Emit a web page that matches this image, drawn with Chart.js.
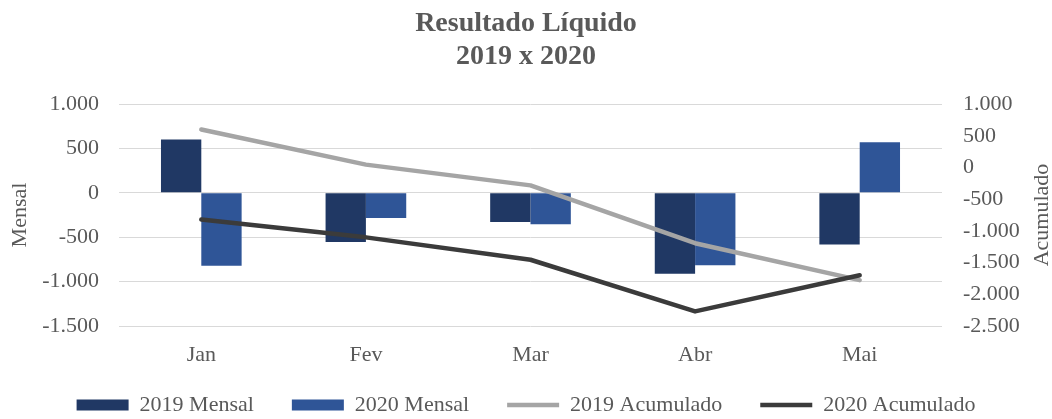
<!DOCTYPE html>
<html>
<head>
<meta charset="utf-8">
<script src="https://cdn.jsdelivr.net/npm/chart.js@4/dist/chart.umd.min.js"></script>
<style>
  html, body { margin: 0; padding: 0; background: #ffffff; }
  #wrap { width: 1052px; height: 419px; position: relative; }
</style>
</head>
<body>
<div id="wrap"><canvas id="c"></canvas></div>
<script>
const categories = ['Jan', 'Fev', 'Mar', 'Abr', 'Mai'];
const mensal2019 = [600, -555, -327, -912, -582];
const mensal2020 = [-820, -282, -353, -815, 571];
const acumulado2019 = [600, 45, -282, -1194, -1776];
const acumulado2020 = [-820, -1102, -1455, -2270, -1699];
const titleLines = ['Resultado Líquido', '2019 x 2020'];
const seriesNames = ['2019 Mensal', '2020 Mensal', '2019 Acumulado', '2020 Acumulado'];
const leftAxisTitle = 'Mensal';
const rightAxisTitle = 'Acumulado';

const FONT = "'Liberation Serif', 'Times New Roman', serif";
const TXT = '#595959';

function fmt(v) {
  const s = Math.abs(v).toString().replace(/\B(?=(\d{3})+(?!\d))/g, '.');
  return (v < 0 ? '-' : '') + s;
}

const rightTitlePlugin = {
  id: 'rightTitle',
  afterDraw(chart) {
    const s = chart.scales.y1;
    const ctx = chart.ctx;
    ctx.save();
    ctx.font = '22px ' + FONT;
    ctx.fillStyle = TXT;
    ctx.textAlign = 'center';
    ctx.textBaseline = 'middle';
    ctx.translate(s.right - 10, (chart.chartArea.top + chart.chartArea.bottom) / 2);
    ctx.rotate(-Math.PI / 2);
    ctx.fillText(rightAxisTitle, 0, 0);
    ctx.restore();
  }
};

new Chart(document.getElementById('c'), {
  data: {
    labels: categories,
    datasets: [
      { type: 'bar', label: seriesNames[0], data: mensal2019, backgroundColor: '#203864', yAxisID: 'y', order: 2,
        categoryPercentage: 0.49, barPercentage: 1, pointStyle: 'rect', borderWidth: 0 },
      { type: 'bar', label: seriesNames[1], data: mensal2020, backgroundColor: '#2F5597', yAxisID: 'y', order: 2,
        categoryPercentage: 0.49, barPercentage: 1, pointStyle: 'rect', borderWidth: 0 },
      { type: 'line', label: seriesNames[2], data: acumulado2019, borderColor: '#A5A5A5', backgroundColor: '#A5A5A5',
        yAxisID: 'y1', order: 1, borderWidth: 4.5, pointRadius: 0, pointHoverRadius: 0, tension: 0,
        borderCapStyle: 'round', borderJoinStyle: 'round', pointStyle: 'line', fill: false },
      { type: 'line', label: seriesNames[3], data: acumulado2020, borderColor: '#3B3B3B', backgroundColor: '#3B3B3B',
        yAxisID: 'y1', order: 0, borderWidth: 4.5, pointRadius: 0, pointHoverRadius: 0, tension: 0,
        borderCapStyle: 'round', borderJoinStyle: 'round', pointStyle: 'line', fill: false }
    ]
  },
  options: {
    responsive: true,
    maintainAspectRatio: false,
    animation: false,
    events: [],
    layout: { padding: { left: 0, right: 0, top: 0, bottom: 0 } },
    plugins: {
      tooltip: { enabled: false },
      title: {
        display: true,
        text: titleLines,
        color: TXT,
        font: { family: FONT, size: 28, weight: 'bold', lineHeight: 1.18 },
        padding: { top: 7, bottom: 31 }
      },
      legend: {
        display: true,
        position: 'bottom',
        maxHeight: 63,
        labels: {
          usePointStyle: true,
          pointStyleWidth: 52,
          boxHeight: 11,
          padding: 38,
          color: TXT,
          font: { family: FONT, size: 22 },
          sort: (a, b) => a.datasetIndex - b.datasetIndex
        }
      }
    },
    scales: {
      x: {
        grid: { display: false, drawTicks: false },
        border: { display: false },
        ticks: { color: TXT, font: { family: FONT, size: 22 }, padding: 16 },
        afterFit(s) { s.height = 30; s._computeLabelArea = () => undefined; }
      },
      y: {
        position: 'left',
        min: -1500, max: 1000,
        grid: { color: '#D9D9D9', lineWidth: 1, drawTicks: false },
        border: { display: false },
        ticks: { stepSize: 500, color: TXT, font: { family: FONT, size: 22 }, padding: 20, callback: v => fmt(v) },
        title: { display: true, text: leftAxisTitle, color: TXT, font: { family: FONT, size: 22 }, padding: { top: 7, bottom: 0 } },
        afterFit(s) { s.width = 119; }
      },
      y1: {
        position: 'right',
        min: -2500, max: 1000,
        grid: { display: false, drawOnChartArea: false, drawTicks: false },
        border: { display: false },
        ticks: { stepSize: 500, color: TXT, font: { family: FONT, size: 22 }, padding: 21, callback: v => fmt(v) },
        afterFit(s) { s.width = 110; }
      }
    }
  },
  plugins: [rightTitlePlugin]
});
</script>
</body>
</html>
